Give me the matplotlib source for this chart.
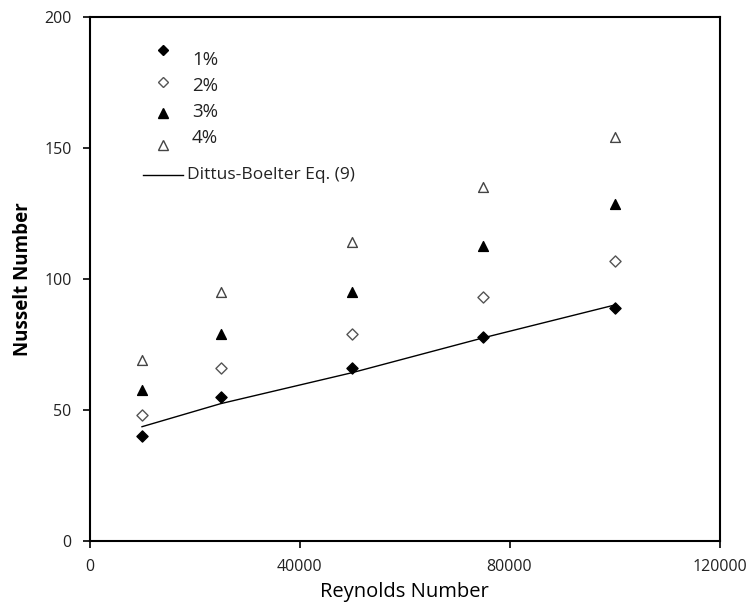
import numpy as np
import matplotlib.pyplot as plt
from matplotlib.lines import Line2D

plt.rcParams['font.family'] = ['Open Sans', 'DejaVu Sans']

# Dados
reynolds = [10000, 25000, 50000, 75000, 100000]
nu_1 = [40, 55, 66, 78, 89]
nu_2 = [48, 66, 79, 93, 106.7]
nu_3 = [57.7, 79, 94.8, 112.4, 128.5]
nu_4 = [69.2, 94.8, 114, 135, 154]
dittus = [43.6, 52.4, 64.2, 77.5, 90.0]

W, H = 752, 610
fig = plt.figure(figsize=(W / 100, H / 100), dpi=100)
ax = fig.add_axes([89.5 / W, 1 - 541 / H, 630 / W, 524.3 / H])

ax.plot(reynolds, dittus, color="black", linewidth=1)
ax.scatter(reynolds, nu_1, marker="D", s=32, color="black", zorder=3)
ax.scatter(reynolds, nu_2, marker="D", s=32, facecolor="white", edgecolor="#555555", linewidth=1, zorder=3)
ax.scatter(reynolds, nu_3, marker="^", s=50, color="black", zorder=3)
ax.scatter(reynolds, nu_4, marker="^", s=50, facecolor="white", edgecolor="#444444", linewidth=1, zorder=3)

ax.set_xlim(0, 120000)
ax.set_ylim(0, 200)
ax.set_xticks([0, 40000, 80000, 120000])
ax.set_yticks([0, 50, 100, 150, 200])
ax.tick_params(direction="out", length=5, width=1.2, labelsize=11.5, pad=8,
               colors="black", labelcolor="#222222")
for s in ax.spines.values():
    s.set_linewidth(1.5)

ax.set_xlabel("Reynolds Number", fontsize=14.5, labelpad=5)
ax.set_ylabel("Nusselt Number", fontsize=13.5, fontweight="bold", labelpad=8)

# Legenda desenhada à mão (estilo Excel: marcadores deslocados do texto)
def px(x, y):
    return x / W, 1 - y / H

legenda = [
    ("1%", dict(marker="D", color="black", markersize=5.5), 50, 60),
    ("2%", dict(marker="D", markerfacecolor="white", markeredgecolor="#555555", markersize=5.5), 82, 86),
    ("3%", dict(marker="^", color="black", markersize=7), 113, 112),
    ("4%", dict(marker="^", markerfacecolor="white", markeredgecolor="#444444", markersize=7), 145, 138),
]
for rotulo, estilo, ym, yt in legenda:
    mx, my = px(163, ym)
    fig.add_artist(Line2D([mx], [my], linestyle="none", transform=fig.transFigure, **estilo))
    tx, ty = px(192, yt)
    fig.text(tx, ty, rotulo, fontsize=13.5, va="center", ha="left", color="#222222")

x0, yl = px(143, 175)
x1, _ = px(183, 175)
fig.add_artist(Line2D([x0, x1], [yl, yl], color="black", linewidth=1, transform=fig.transFigure))
tx, ty = px(187, 175)
fig.text(tx, ty, "Dittus-Boelter Eq. (9)", fontsize=12.5, va="center", ha="left", color="#222222")

fig.savefig("out.png", dpi=100)
